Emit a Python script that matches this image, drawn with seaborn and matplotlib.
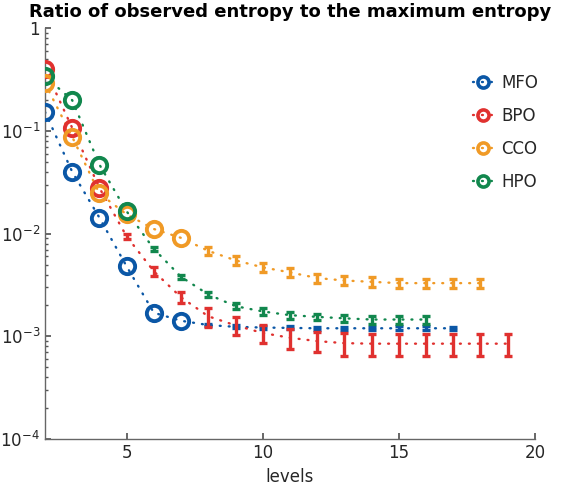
import numpy as np
import pandas as pd
import matplotlib
matplotlib.use("Agg")
import matplotlib.pyplot as plt
from matplotlib.lines import Line2D
import seaborn as sns

sns.set_theme(style="ticks")
plt.rcParams['font.family'] = ['DejaVu Sans']

# values (error 0 = single value, drawn as a circle)
names = ["MFO", "BPO", "CCO", "HPO"]
colors = ["#0b57a6", "#e0312f", "#f09a26", "#11874d"]

mfo_lv = list(range(2, 18))
mfo = [0.153, 0.040, 0.0143, 0.0048, 0.0017, 0.00142, 0.00129, 0.00124,
       0.00122, 0.00121, 0.0012, 0.0012, 0.0012, 0.0012, 0.0012, 0.0012]
mfo_err = [0, 0, 0, 0, 0, 0, 0.00004, 0.00004, 0.00004, 0.00004, 0.00004,
           0.00004, 0.00004, 0.00005, 0.00005, 0.00004]

bpo_lv = list(range(2, 20))
bpo = [0.40, 0.107, 0.0279, 0.0094, 0.0043, 0.0024, 0.00157, 0.00128, 0.00108,
       0.00097, 0.0009, 0.00086, 0.00085, 0.00085, 0.00085, 0.00085, 0.00085, 0.00085]
bpo_err = [0, 0, 0, 0.0006, 0.0004, 0.0003, 0.00033, 0.00025, 0.00021,
           0.00022, 0.0002, 0.00021, 0.00021, 0.00021, 0.00021, 0.00021, 0.00021, 0.00021]

cco_lv = list(range(2, 19))
cco = [0.29, 0.0875, 0.0246, 0.0154, 0.0111, 0.0091, 0.0068, 0.0055, 0.0047,
       0.0042, 0.0037, 0.0035, 0.0034, 0.0033, 0.0033, 0.0033, 0.0033]
cco_err = [0, 0, 0, 0, 0, 0, 0.0006, 0.0005, 0.00045, 0.0004, 0.00038,
           0.00035, 0.00035, 0.00035, 0.00035, 0.00035, 0.00035]

hpo_lv = list(range(2, 17))
hpo = [0.34, 0.199, 0.047, 0.0165, 0.0071, 0.0038, 0.00256, 0.00197, 0.00175,
       0.00161, 0.00155, 0.0015, 0.00146, 0.00146, 0.00146]
hpo_err = [0, 0, 0, 0, 0.0003, 0.0002, 0.00015, 0.00014, 0.00012, 0.00012,
           0.00012, 0.00013, 0.00013, 0.00013, 0.00013]

series = [(mfo_lv, mfo, mfo_err), (bpo_lv, bpo, bpo_err),
          (cco_lv, cco, cco_err), (hpo_lv, hpo, hpo_err)]

frames = []
for name, (lv, v, e) in zip(names, series):
    frames.append(pd.DataFrame({"levels": lv, "ratio": v, "err": e, "ont": name}))
df = pd.concat(frames, ignore_index=True)

fig = plt.figure(figsize=(5.73, 4.94), dpi=100)
ax = fig.add_axes([0.0785, 0.111, 0.855, 0.832])

dots = (0, (0.4, 3.4))
for name, col in zip(names, colors):
    d = df[df["ont"] == name]
    sns.lineplot(data=d, x="levels", y="ratio", ax=ax, color=col, lw=1.7,
                 linestyle=dots, dash_capstyle="round", legend=False, zorder=2)
    single = d[d["err"] == 0]
    ax.plot(single["levels"], single["ratio"], "o", ms=11, mfc="none",
            mec=col, mew=2.8, zorder=3)
    multi = d[d["err"] > 0]
    ax.errorbar(multi["levels"], multi["ratio"], yerr=multi["err"], fmt="none",
                ecolor=col, elinewidth=2.4, capsize=3, capthick=2.4, zorder=3)

ax.set_yscale("log")
ax.set_xlim(2, 20)
ax.set_ylim(1e-4, 1)
ax.set_xticks([5, 10, 15, 20])
ax.set_yticks([1e-4, 1e-3, 1e-2, 1e-1, 1])
ax.set_yticklabels([r"$\mathdefault{10^{-4}}$", r"$\mathdefault{10^{-3}}$",
                    r"$\mathdefault{10^{-2}}$", r"$\mathdefault{10^{-1}}$", "1"])
ax.tick_params(axis="both", which="both", direction="in", colors="#555555",
               labelcolor="#262626", labelsize=12)
ax.tick_params(axis="both", which="major", length=4)
ax.tick_params(axis="y", which="minor", length=2.5)
ax.tick_params(axis="x", which="minor", length=0)
for s in ["top", "right"]:
    ax.spines[s].set_visible(False)
for s in ["left", "bottom"]:
    ax.spines[s].set_color("#666666")
    ax.spines[s].set_linewidth(1.0)

ax.set_xlabel("levels", fontsize=12, color="#262626", labelpad=4)
ax.set_ylabel("")
ax.set_title("Ratio of observed entropy to the maximum entropy",
             fontsize=13, fontweight="bold", color="black", pad=8)

handles = [Line2D([], [], color=c, linestyle=dots, dash_capstyle="round", lw=1.7,
                  marker="o", ms=8, mfc="none", mec=c, mew=2.6) for c in colors]
ax.legend(handles, names, loc="upper right", bbox_to_anchor=(1.02, 0.905),
          frameon=False, fontsize=12, handlelength=1.2, handletextpad=0.5,
          labelspacing=0.9, borderaxespad=0)

fig.savefig("out.png", dpi=100)
